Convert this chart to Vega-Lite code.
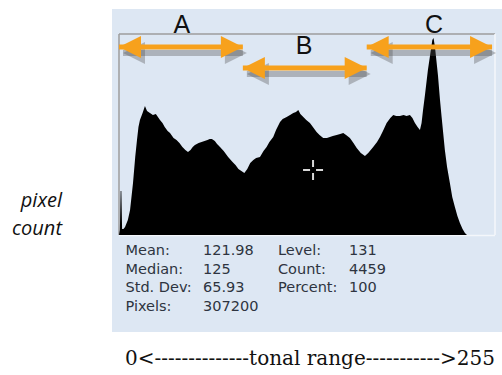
{
  "$schema": "https://vega.github.io/schema/vega-lite/v6.json",
  "width": 376,
  "height": 201,
  "autosize": {"type": "none"},
  "padding": {"left": 119, "top": 34, "right": 7, "bottom": 140},
  "background": "white",
  "config": {"view": {"stroke": null}},
  "data": {"values": [{}]},
  "datasets": {
    "hist": [
      {"level": 0, "count": 0}, {"level": 0.6, "count": 5}, {"level": 1.1, "count": 44}, {"level": 1.6, "count": 44}, {"level": 2.1, "count": 6},
      {"level": 3, "count": 6}, {"level": 4.1, "count": 8}, {"level": 6, "count": 15}, {"level": 7.5, "count": 25}, {"level": 9.5, "count": 52},
      {"level": 11, "count": 78}, {"level": 12.2, "count": 95}, {"level": 13.2, "count": 108}, {"level": 14.2, "count": 115}, {"level": 16, "count": 122},
      {"level": 17.6, "count": 129}, {"level": 19, "count": 124}, {"level": 21, "count": 122}, {"level": 23, "count": 120}, {"level": 25, "count": 121},
      {"level": 27.8, "count": 115}, {"level": 29.5, "count": 112}, {"level": 31, "count": 108}, {"level": 33, "count": 104}, {"level": 34.6, "count": 102},
      {"level": 37, "count": 97}, {"level": 39, "count": 95}, {"level": 41, "count": 92}, {"level": 43, "count": 88}, {"level": 45, "count": 85},
      {"level": 46.8, "count": 83}, {"level": 48.5, "count": 85}, {"level": 50, "count": 88}, {"level": 51.5, "count": 90}, {"level": 54, "count": 92},
      {"level": 56, "count": 93}, {"level": 58, "count": 94}, {"level": 60, "count": 95}, {"level": 61.5, "count": 96}, {"level": 63, "count": 96},
      {"level": 65, "count": 94}, {"level": 66.5, "count": 91}, {"level": 68.5, "count": 88}, {"level": 71, "count": 84}, {"level": 74, "count": 78},
      {"level": 77, "count": 73}, {"level": 79, "count": 70}, {"level": 81, "count": 66}, {"level": 83, "count": 64}, {"level": 85, "count": 62},
      {"level": 87, "count": 66}, {"level": 89, "count": 72}, {"level": 91.1, "count": 75}, {"level": 93, "count": 77}, {"level": 95.6, "count": 78},
      {"level": 98, "count": 84}, {"level": 100.1, "count": 88}, {"level": 102, "count": 93}, {"level": 104.6, "count": 98}, {"level": 106.5, "count": 105},
      {"level": 109.2, "count": 113}, {"level": 111, "count": 116}, {"level": 113.7, "count": 118}, {"level": 116, "count": 120}, {"level": 118.2, "count": 122},
      {"level": 120, "count": 123}, {"level": 121.6, "count": 125}, {"level": 123, "count": 121}, {"level": 125, "count": 118}, {"level": 127, "count": 115},
      {"level": 129.5, "count": 112}, {"level": 132, "count": 107}, {"level": 134, "count": 103}, {"level": 136, "count": 100}, {"level": 138.5, "count": 97},
      {"level": 141, "count": 97}, {"level": 143, "count": 98}, {"level": 145, "count": 99}, {"level": 147.6, "count": 100}, {"level": 150, "count": 101},
      {"level": 152.1, "count": 102}, {"level": 154, "count": 100}, {"level": 156.6, "count": 97}, {"level": 159, "count": 92}, {"level": 161.2, "count": 87},
      {"level": 164, "count": 82}, {"level": 166.8, "count": 79}, {"level": 169, "count": 82}, {"level": 172.4, "count": 88}, {"level": 175, "count": 93},
      {"level": 177, "count": 98}, {"level": 179, "count": 104}, {"level": 181.5, "count": 112}, {"level": 184, "count": 117}, {"level": 186, "count": 120},
      {"level": 188, "count": 119}, {"level": 190.5, "count": 119}, {"level": 193, "count": 120}, {"level": 195, "count": 119}, {"level": 197.3, "count": 120},
      {"level": 199, "count": 117}, {"level": 200.7, "count": 112}, {"level": 202.5, "count": 108}, {"level": 204.1, "count": 105}, {"level": 205.2, "count": 112},
      {"level": 206.2, "count": 125}, {"level": 207.5, "count": 140}, {"level": 209.5, "count": 165}, {"level": 211.5, "count": 185}, {"level": 212.5, "count": 195},
      {"level": 213.3, "count": 197}, {"level": 214.3, "count": 188}, {"level": 216.3, "count": 160}, {"level": 217.7, "count": 135}, {"level": 218.8, "count": 118},
      {"level": 221, "count": 85}, {"level": 222.5, "count": 68}, {"level": 224.4, "count": 52}, {"level": 226, "count": 38}, {"level": 227.8, "count": 28},
      {"level": 229.5, "count": 19}, {"level": 231.2, "count": 12}, {"level": 233, "count": 6}, {"level": 234.6, "count": 2}, {"level": 236, "count": 0},
      {"level": 255, "count": 0}
    ],
    "arrows": [
      {"region": "A", "start": 0, "end": 84, "height": 188},
      {"region": "B", "start": 84, "end": 168, "height": 167},
      {"region": "C", "start": 168, "end": 253, "height": 188}
    ]
  },
  "layer": [
    {
      "mark": {"type": "rect", "fill": "#dde7f3"},
      "encoding": {
        "x": {"datum": -4.75, "type": "quantitative", "scale": {"domain": [0, 255], "nice": false}, "axis": null},
        "x2": {"datum": 262},
        "y": {"datum": -97, "type": "quantitative", "scale": {"domain": [0, 201], "nice": false}, "axis": null},
        "y2": {"datum": 226}
      }
    },
    {
      "mark": {"type": "rule", "stroke": "#9c9c9c", "strokeWidth": 1.5},
      "encoding": {
        "x": {"datum": 0, "type": "quantitative", "scale": {"domain": [0, 255], "nice": false}, "axis": null},
        "x2": {"datum": 255},
        "y": {"datum": 201, "type": "quantitative", "scale": {"domain": [0, 201], "nice": false}, "axis": null}
      }
    },
    {
      "mark": {"type": "rule", "stroke": "#9c9c9c", "strokeWidth": 1.5},
      "encoding": {
        "x": {"datum": 0, "type": "quantitative", "scale": {"domain": [0, 255], "nice": false}, "axis": null},
        "y": {"datum": 0, "type": "quantitative", "scale": {"domain": [0, 201], "nice": false}, "axis": null},
        "y2": {"datum": 201}
      }
    },
    {
      "mark": {"type": "rule", "stroke": "#f4f7fb", "strokeWidth": 1.5},
      "encoding": {
        "x": {"datum": 255, "type": "quantitative", "scale": {"domain": [0, 255], "nice": false}, "axis": null},
        "y": {"datum": 0, "type": "quantitative", "scale": {"domain": [0, 201], "nice": false}, "axis": null},
        "y2": {"datum": 201}
      }
    },
    {
      "mark": {"type": "rule", "stroke": "#f4f7fb", "strokeWidth": 1.5},
      "encoding": {
        "x": {"datum": 0, "type": "quantitative", "scale": {"domain": [0, 255], "nice": false}, "axis": null},
        "x2": {"datum": 255},
        "y": {"datum": -0.5, "type": "quantitative", "scale": {"domain": [0, 201], "nice": false}, "axis": null}
      }
    },
    {
      "data": {"name": "hist"},
      "mark": {"type": "area", "color": "#000000", "interpolate": "linear"},
      "encoding": {
        "x": {"field": "level", "type": "quantitative", "scale": {"domain": [0, 255], "nice": false}, "axis": null},
        "y": {"field": "count", "type": "quantitative", "scale": {"domain": [0, 201], "nice": false}, "axis": null}
      }
    },
    {
      "mark": {"type": "point", "shape": "M-1,0L-0.3,0M0.3,0L1,0M0,-1L0,-0.3M0,0.3L0,1", "filled": false, "stroke": "#d8d8d8", "strokeWidth": 2, "size": 400, "opacity": 1},
      "encoding": {
        "x": {"datum": 131.6, "type": "quantitative", "scale": {"domain": [0, 255], "nice": false}, "axis": null},
        "y": {"datum": 65, "type": "quantitative", "scale": {"domain": [0, 201], "nice": false}, "axis": null}
      }
    },
    {
      "data": {"name": "arrows"},
      "mark": {"type": "rule", "stroke": "#505050", "strokeWidth": 6, "opacity": 0.35, "xOffset": 4, "yOffset": 6},
      "encoding": {
        "x": {"field": "start", "type": "quantitative", "scale": {"domain": [0, 255], "nice": false}, "axis": null},
        "x2": {"field": "end"},
        "y": {"field": "height", "type": "quantitative", "scale": {"domain": [0, 201], "nice": false}, "axis": null}
      }
    },
    {
      "data": {"name": "arrows"},
      "mark": {"type": "point", "shape": "M0,0L2,-1L2,1Z", "filled": true, "color": "#505050", "opacity": 0.35, "size": 484, "xOffset": 4, "yOffset": 6},
      "encoding": {
        "x": {"field": "start", "type": "quantitative", "scale": {"domain": [0, 255], "nice": false}, "axis": null},
        "y": {"field": "height", "type": "quantitative", "scale": {"domain": [0, 201], "nice": false}, "axis": null}
      }
    },
    {
      "data": {"name": "arrows"},
      "mark": {"type": "point", "shape": "M0,0L-2,-1L-2,1Z", "filled": true, "color": "#505050", "opacity": 0.35, "size": 484, "xOffset": 4, "yOffset": 6},
      "encoding": {
        "x": {"field": "end", "type": "quantitative", "scale": {"domain": [0, 255], "nice": false}, "axis": null},
        "y": {"field": "height", "type": "quantitative", "scale": {"domain": [0, 201], "nice": false}, "axis": null}
      }
    },
    {
      "data": {"name": "arrows"},
      "mark": {"type": "rule", "stroke": "#f7a11c", "strokeWidth": 5},
      "encoding": {
        "x": {"field": "start", "type": "quantitative", "scale": {"domain": [0, 255], "nice": false}, "axis": null},
        "x2": {"field": "end"},
        "y": {"field": "height", "type": "quantitative", "scale": {"domain": [0, 201], "nice": false}, "axis": null}
      }
    },
    {
      "data": {"name": "arrows"},
      "mark": {"type": "point", "shape": "M0,0L2,-1L2,1Z", "filled": true, "color": "#f7a11c", "opacity": 1, "size": 484},
      "encoding": {
        "x": {"field": "start", "type": "quantitative", "scale": {"domain": [0, 255], "nice": false}, "axis": null},
        "y": {"field": "height", "type": "quantitative", "scale": {"domain": [0, 201], "nice": false}, "axis": null}
      }
    },
    {
      "data": {"name": "arrows"},
      "mark": {"type": "point", "shape": "M0,0L-2,-1L-2,1Z", "filled": true, "color": "#f7a11c", "opacity": 1, "size": 484},
      "encoding": {
        "x": {"field": "end", "type": "quantitative", "scale": {"domain": [0, 255], "nice": false}, "axis": null},
        "y": {"field": "height", "type": "quantitative", "scale": {"domain": [0, 201], "nice": false}, "axis": null}
      }
    },
    {
      "mark": {"type": "text", "text": "A", "font": "Liberation Sans", "fontSize": 25, "color": "#111111", "align": "center", "baseline": "alphabetic"},
      "encoding": {
        "x": {"datum": 42.7, "type": "quantitative", "scale": {"domain": [0, 255], "nice": false}, "axis": null},
        "y": {"datum": 202, "type": "quantitative", "scale": {"domain": [0, 201], "nice": false}, "axis": null}
      }
    },
    {
      "mark": {"type": "text", "text": "B", "font": "Liberation Sans", "fontSize": 25, "color": "#111111", "align": "center", "baseline": "alphabetic"},
      "encoding": {
        "x": {"datum": 125.5, "type": "quantitative", "scale": {"domain": [0, 255], "nice": false}, "axis": null},
        "y": {"datum": 181, "type": "quantitative", "scale": {"domain": [0, 201], "nice": false}, "axis": null}
      }
    },
    {
      "mark": {"type": "text", "text": "C", "font": "Liberation Sans", "fontSize": 25, "color": "#111111", "align": "center", "baseline": "alphabetic"},
      "encoding": {
        "x": {"datum": 213.6, "type": "quantitative", "scale": {"domain": [0, 255], "nice": false}, "axis": null},
        "y": {"datum": 202, "type": "quantitative", "scale": {"domain": [0, 201], "nice": false}, "axis": null}
      }
    },
    {
      "mark": {"type": "text", "text": ["Mean:", "Median:", "Std. Dev:", "Pixels:"], "font": "DejaVu Sans", "fontSize": 14.5, "lineHeight": 18.5, "color": "#2e3440", "align": "left", "baseline": "alphabetic"},
      "encoding": {
        "x": {"datum": 4.41, "type": "quantitative", "scale": {"domain": [0, 255], "nice": false}, "axis": null},
        "y": {"datum": -20.3, "type": "quantitative", "scale": {"domain": [0, 201], "nice": false}, "axis": null}
      }
    },
    {
      "mark": {"type": "text", "text": ["121.98", "125", "65.93", "307200"], "font": "DejaVu Sans", "fontSize": 14.5, "lineHeight": 18.5, "color": "#2e3440", "align": "left", "baseline": "alphabetic"},
      "encoding": {
        "x": {"datum": 56.97, "type": "quantitative", "scale": {"domain": [0, 255], "nice": false}, "axis": null},
        "y": {"datum": -20.3, "type": "quantitative", "scale": {"domain": [0, 201], "nice": false}, "axis": null}
      }
    },
    {
      "mark": {"type": "text", "text": ["Level:", "Count:", "Percent:"], "font": "DejaVu Sans", "fontSize": 14.5, "lineHeight": 18.5, "color": "#2e3440", "align": "left", "baseline": "alphabetic"},
      "encoding": {
        "x": {"datum": 107.83, "type": "quantitative", "scale": {"domain": [0, 255], "nice": false}, "axis": null},
        "y": {"datum": -20.3, "type": "quantitative", "scale": {"domain": [0, 201], "nice": false}, "axis": null}
      }
    },
    {
      "mark": {"type": "text", "text": ["131", "4459", "100"], "font": "DejaVu Sans", "fontSize": 14.5, "lineHeight": 18.5, "color": "#2e3440", "align": "left", "baseline": "alphabetic"},
      "encoding": {
        "x": {"datum": 155.98, "type": "quantitative", "scale": {"domain": [0, 255], "nice": false}, "axis": null},
        "y": {"datum": -20.3, "type": "quantitative", "scale": {"domain": [0, 201], "nice": false}, "axis": null}
      }
    },
    {
      "mark": {"type": "text", "text": ["pixel", "count"], "font": "Open Sans", "fontStyle": "italic", "fontSize": 20, "lineHeight": 28, "color": "#111111", "align": "right", "baseline": "alphabetic"},
      "encoding": {
        "x": {"datum": -38.66, "type": "quantitative", "scale": {"domain": [0, 255], "nice": false}, "axis": null},
        "y": {"datum": 28, "type": "quantitative", "scale": {"domain": [0, 201], "nice": false}, "axis": null}
      }
    },
    {
      "mark": {"type": "text", "text": "0<--------------tonal range----------->255", "font": "DejaVu Serif", "fontSize": 20, "color": "#111111", "align": "left", "baseline": "alphabetic"},
      "encoding": {
        "x": {"datum": 4.07, "type": "quantitative", "scale": {"domain": [0, 255], "nice": false}, "axis": null},
        "y": {"datum": -130, "type": "quantitative", "scale": {"domain": [0, 201], "nice": false}, "axis": null}
      }
    }
  ]
}
